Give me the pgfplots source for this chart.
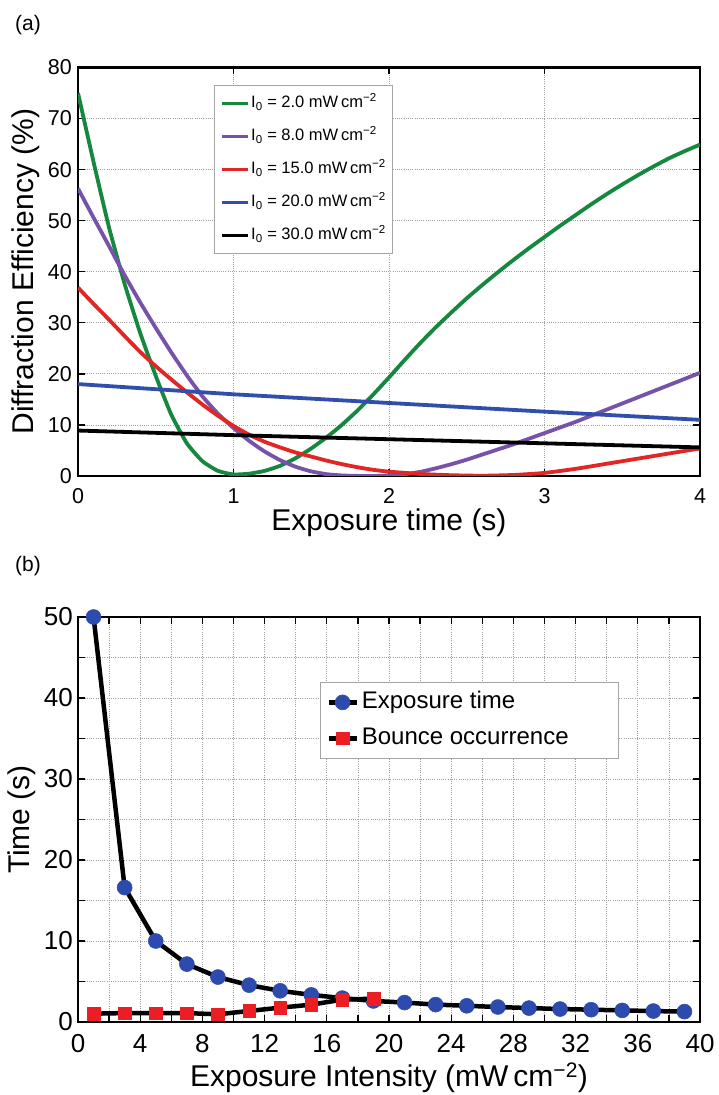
\documentclass[border=0pt]{standalone}
\usepackage{fontspec}
\setmainfont{Liberation Sans}
\usepackage{pgfplots}
\pgfplotsset{compat=1.18}
\definecolor{cgreen}{RGB}{22,135,62}
\definecolor{cpurple}{RGB}{118,82,170}
\definecolor{cred}{RGB}{226,38,38}
\definecolor{cblue}{RGB}{48,78,170}
\definecolor{mblue}{RGB}{45,75,175}
\definecolor{mred}{RGB}{235,30,35}
\pgfplotsset{
  mystyle/.style={
    scale only axis,
    width=622pt,
    axis line style={line width=2.4pt},
    tick align=inside,
    major tick length=7pt,
    minor tick length=7pt,
    tick style={black, line width=1.3pt},
    grid style={line width=0.75pt, gray!75, dash pattern=on 1pt off 1.2pt},
    /pgf/number format/assume math mode=true,
    clip mode=individual,
    legend cell align=left,
  }
}
\begin{document}
\begin{tikzpicture}
\path[use as bounding box] (0pt,0pt) rectangle (718pt,1095pt);
\node[anchor=base west, inner sep=0pt, font=\fontsize{21}{21}\selectfont] at (15pt,1064pt) {(a)};
\node[anchor=base west, inner sep=0pt, font=\fontsize{21}{21}\selectfont] at (15pt,523pt) {(b)};
% ---------------- (a) ----------------
\begin{axis}[mystyle,
  at={(78pt,619pt)}, anchor=south west,
  height=408.5pt,
  xmin=0, xmax=4, ymin=0, ymax=80,
  xtick={0,1,2,3,4}, ytick={0,10,...,80},
  grid=major,
  xticklabel style={font=\fontsize{21.5}{21.5}\selectfont, anchor=base, inner sep=0pt, yshift=-27.5pt},
  yticklabel style={font=\fontsize{21.5}{21.5}\selectfont, anchor=east, inner sep=0pt, xshift=-6pt},
  xlabel={Exposure time (s)},
  ylabel={Diffraction Efficiency (\%)},
  xlabel style={at={(axis description cs:0.5,-0.1335)}, anchor=base, inner sep=0pt, font=\fontsize{30}{30}\selectfont},
  ylabel style={at={(axis description cs:-0.0836,0.5)}, anchor=center, inner sep=0pt, font=\fontsize{30}{30}\selectfont},
  legend style={at={(0.2186,0.957)}, anchor=north west, draw=gray!70, line width=0.8pt, fill=white,
    inner xsep=6pt, inner ysep=10pt, row sep=17pt, column sep=1pt,
    font=\fontsize{16.5}{17}\selectfont,
    nodes={inner sep=0pt, text height=12pt, text depth=4pt}},
  legend image code/.code={\draw[#1, line width=3.8pt] (0pt,0pt) -- (26pt,0pt);},
]
\addplot[cgreen, line width=3.8pt, smooth, tension=0.3] coordinates {
(0,75.0) (0.1,61.5) (0.2,48.6) (0.3,37.6) (0.4,28.0) (0.5,19.6) (0.6,12.0) (0.7,6.4)
(0.8,2.9) (0.9,1.0) (1.0,0.3) (1.1,0.45) (1.2,1.0) (1.3,2.0) (1.4,3.5) (1.5,5.4)
(1.6,7.6) (1.7,10.1) (1.8,12.9) (1.9,16.0) (2.0,19.3) (2.1,22.7) (2.2,26.0) (2.3,29.1)
(2.4,32.0) (2.5,34.8) (2.6,37.4) (2.7,39.9) (2.8,42.3) (2.9,44.6) (3.0,46.8) (3.1,49.0)
(3.2,51.1) (3.3,53.2) (3.4,55.2) (3.5,57.1) (3.6,58.9) (3.7,60.6) (3.8,62.2) (3.9,63.6)
(4.0,64.9)};
\addlegendentry{I\textsubscript{0}~=~2.0 mW\,cm\textsuperscript{−2}}
\addplot[cpurple, line width=3.8pt, smooth, tension=0.3] coordinates {
(0,56.3) (0.1,50.6) (0.2,45.0) (0.3,39.3) (0.4,34.0) (0.5,29.0) (0.6,24.2) (0.7,19.7)
(0.8,15.6) (0.9,12.2) (1.0,9.4) (1.1,6.9) (1.2,4.8) (1.3,3.1) (1.4,1.8) (1.5,0.9)
(1.6,0.35) (1.7,0.1) (1.8,0.02) (1.9,0.0) (2.0,0.1) (2.1,0.35) (2.2,0.8) (2.3,1.5)
(2.4,2.3) (2.5,3.2) (2.6,4.2) (2.7,5.2) (2.8,6.2) (2.9,7.3) (3.0,8.4) (3.1,9.5)
(3.2,10.6) (3.3,11.8) (3.4,13.0) (3.5,14.2) (3.6,15.4) (3.7,16.6) (3.8,17.8) (3.9,19.0)
(4.0,20.2)};
\addlegendentry{I\textsubscript{0}~=~8.0 mW\,cm\textsuperscript{−2}}
\addplot[cred, line width=3.8pt, smooth, tension=0.3] coordinates {
(0,36.9) (0.1,33.7) (0.2,30.6) (0.3,27.4) (0.4,24.3) (0.5,21.5) (0.6,18.9) (0.7,16.4)
(0.8,14.0) (0.9,11.8) (1.0,9.8) (1.1,8.1) (1.2,6.7) (1.3,5.6) (1.4,4.6) (1.5,3.8)
(1.6,3.0) (1.7,2.3) (1.8,1.7) (1.9,1.2) (2.0,0.85) (2.2,0.4) (2.4,0.15) (2.6,0.05)
(2.8,0.2) (3.0,0.6) (3.2,1.4) (3.4,2.4) (3.6,3.4) (3.8,4.4) (4.0,5.4)};
\addlegendentry{I\textsubscript{0}~=~15.0 mW\,cm\textsuperscript{−2}}
\addplot[cblue, line width=3.8pt] coordinates {(0,18.0) (1,16.0) (2,14.3) (3,12.6) (4,11.0)};
\addlegendentry{I\textsubscript{0}~=~20.0 mW\,cm\textsuperscript{−2}}
\addplot[black, line width=3.8pt] coordinates {(0,8.9) (1,8.0) (2,7.2) (3,6.4) (4,5.6)};
\addlegendentry{I\textsubscript{0}~=~30.0 mW\,cm\textsuperscript{−2}}
\end{axis}
% ---------------- (b) ----------------
\begin{axis}[mystyle,
  at={(78pt,73pt)}, anchor=south west,
  height=405pt,
  xmin=0, xmax=40, ymin=0, ymax=50,
  xtick={0,4,...,40}, minor xtick={2,6,...,38},
  ytick={0,10,...,50}, minor ytick={5,15,...,45},
  grid=both,
  xticklabel style={font=\fontsize{26}{26}\selectfont, anchor=base, inner sep=0pt, yshift=-30pt},
  yticklabel style={font=\fontsize{26}{26}\selectfont, anchor=east, inner sep=0pt, xshift=-5pt},
  xlabel={Exposure Intensity (mW\,cm\textsuperscript{−2})},
  ylabel={Time (s)},
  xlabel style={at={(axis description cs:0.5,-0.16)}, anchor=base, inner sep=0pt, font=\fontsize{30}{30}\selectfont},
  ylabel style={at={(axis description cs:-0.09,0.5)}, anchor=center, inner sep=0pt, font=\fontsize{30}{30}\selectfont},
  legend style={at={(0.389,0.8395)}, anchor=north west, draw=gray!70, line width=0.8pt, fill=white,
    inner xsep=6pt, inner ysep=9pt, row sep=14pt, column sep=3pt,
    font=\fontsize{24}{26}\selectfont,
    nodes={inner sep=0pt, text height=17pt, text depth=5pt}},
  legend image code/.code={\draw[mark repeat=2, mark phase=2, #1] plot coordinates {(0pt,0pt) (14pt,0pt) (28pt,0pt)};},
]
\addplot[black, line width=4.5pt, mark=*, mark size=7.5pt, mark options={draw=mblue, fill=mblue, line width=0.5pt}] coordinates {
(1,50.0) (3,16.6) (5,10.0) (7,7.15) (9,5.55) (11,4.55) (13,3.85) (15,3.35) (17,2.95)
(19,2.6) (21,2.4) (23,2.15) (25,2.0) (27,1.85) (29,1.72) (31,1.6) (33,1.52) (35,1.43)
(37,1.35) (39,1.28)};
\addlegendentry{Exposure time}
\addplot[black, line width=4.5pt, mark=square*, mark size=6.3pt, mark options={draw=mred, fill=mred, line width=0.5pt}] coordinates {
(1,1.03) (3,1.1) (5,1.1) (7,1.1) (9,0.95) (11,1.36) (13,1.77) (15,2.14) (17,2.76) (19,2.88)};
\addlegendentry{Bounce occurrence\hspace*{44pt}}
\end{axis}
\end{tikzpicture}
\end{document}
